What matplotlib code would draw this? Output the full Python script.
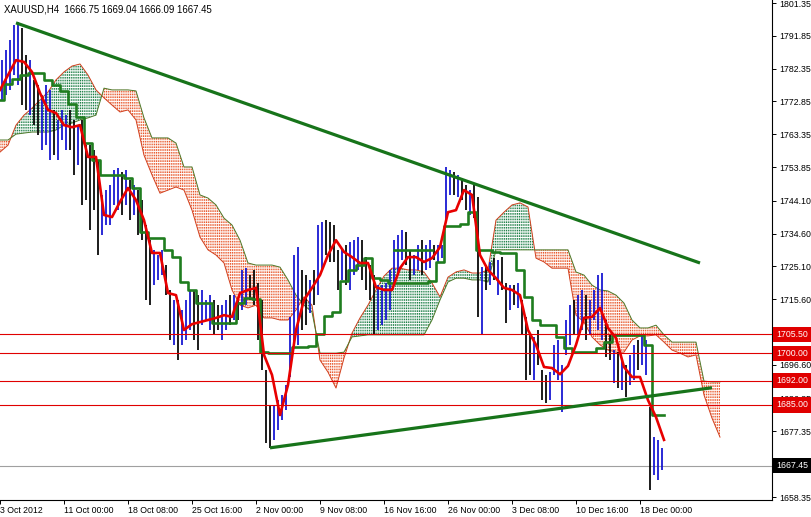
import numpy as np
import matplotlib
matplotlib.use("Agg")
import matplotlib.pyplot as plt
import matplotlib.transforms as mtransforms

plt.rcParams['font.family'] = ['Liberation Sans', 'DejaVu Sans']
plt.rcParams['hatch.linewidth'] = 0.8

# ---------------- data ----------------
title_text = "XAUUSD,H4  1666.75 1669.04 1666.09 1667.45"

# price bars (one entry per two H4 bars)
bar_high = [1784.8, 1787.7, 1790.6, 1795.0, 1795.8, 1794.1, 1786.3, 1784.8, 1779.1, 1777.6,
            1774.7, 1777.6, 1776.2, 1770.4, 1767.5, 1770.4, 1768.9, 1770.4, 1767.5, 1766.0,
            1767.5, 1760.2, 1760.2, 1758.8, 1755.9, 1745.8, 1747.2, 1748.7, 1753.0, 1753.6,
            1752.4, 1753.0, 1750.1, 1748.7, 1747.2, 1744.3, 1737.1, 1732.7, 1729.9, 1728.4,
            1729.9, 1725.5, 1718.3, 1715.4, 1715.4, 1712.5, 1715.4, 1718.3, 1718.3, 1716.8,
            1718.3, 1715.4, 1716.8, 1715.4, 1713.9, 1713.9, 1715.4, 1716.8, 1716.8, 1715.4,
            1724.1, 1724.6, 1722.6, 1724.1, 1720.3, 1715.4, 1695.1, 1685.0, 1685.0, 1686.4,
            1687.9, 1690.8, 1710.5, 1728.4, 1730.7, 1724.1, 1722.6, 1721.2, 1724.1, 1737.1,
            1738.0, 1738.5, 1738.0, 1737.1, 1729.9, 1729.9, 1731.3, 1732.2, 1732.7, 1733.6,
            1732.7, 1727.8, 1725.5, 1722.6, 1719.7, 1719.7, 1720.3, 1724.1, 1732.7, 1734.2,
            1735.6, 1735.1, 1729.9, 1728.4, 1731.3, 1732.7, 1731.3, 1732.7, 1731.3, 1731.3,
            1731.3, 1753.9, 1753.0, 1752.4, 1751.6, 1750.7, 1748.7, 1747.2, 1748.7, 1745.2,
            1724.9, 1725.5, 1726.4, 1727.5, 1727.0, 1727.8, 1720.3, 1719.7, 1719.7, 1720.3,
            1715.4, 1710.5, 1705.3, 1704.7, 1706.7, 1695.1, 1693.7, 1694.5, 1702.4, 1703.8,
            1696.6, 1709.6, 1713.9, 1715.4, 1716.8, 1718.3, 1716.8, 1715.4, 1718.3, 1722.6,
            1723.2, 1709.6, 1705.3, 1700.9, 1700.3, 1698.0, 1696.6, 1699.5, 1702.4, 1703.8,
            1705.3, 1703.8, 1684.4, 1675.7, 1674.9, 1672.5]
bar_low = [1773.3, 1774.7, 1776.2, 1780.5, 1777.6, 1771.8, 1770.4, 1768.9, 1766.0, 1763.1,
           1758.8, 1760.2, 1755.9, 1757.3, 1755.9, 1761.7, 1758.8, 1758.8, 1751.6, 1754.5,
           1742.9, 1744.3, 1735.6, 1741.4, 1728.4, 1734.2, 1737.1, 1737.1, 1742.9, 1741.4,
           1740.0, 1742.9, 1738.5, 1740.0, 1734.2, 1732.7, 1715.4, 1713.9, 1719.7, 1721.2,
           1722.6, 1716.8, 1703.8, 1702.4, 1698.0, 1702.4, 1703.8, 1706.7, 1703.8, 1700.9,
           1708.1, 1709.6, 1706.7, 1705.3, 1706.7, 1703.8, 1706.7, 1708.1, 1709.6, 1709.6,
           1712.5, 1713.9, 1715.4, 1713.9, 1703.8, 1695.1, 1674.0, 1672.5, 1674.9, 1677.8,
           1680.7, 1683.5, 1693.1, 1702.4, 1702.4, 1706.7, 1708.1, 1711.6, 1713.9, 1716.8,
           1724.1, 1728.4, 1726.4, 1726.4, 1718.3, 1721.2, 1719.7, 1718.3, 1722.6, 1724.1,
           1721.2, 1718.3, 1715.4, 1705.3, 1706.7, 1708.1, 1709.6, 1712.5, 1719.7, 1722.6,
           1727.0, 1725.5, 1721.2, 1722.6, 1724.1, 1722.6, 1724.1, 1724.6, 1727.0, 1726.4,
           1727.5, 1738.0, 1745.8, 1745.8, 1745.2, 1744.3, 1741.4, 1740.0, 1739.1, 1710.5,
           1705.3, 1718.3, 1719.7, 1721.2, 1716.8, 1718.3, 1708.7, 1712.5, 1713.9, 1713.1,
           1705.3, 1692.2, 1693.7, 1692.2, 1696.6, 1686.4, 1685.6, 1686.4, 1693.7, 1692.2,
           1683.0, 1699.5, 1702.4, 1705.3, 1705.3, 1706.7, 1703.8, 1705.3, 1709.6, 1706.7,
           1703.8, 1698.9, 1698.0, 1691.4, 1689.9, 1689.3, 1687.3, 1690.8, 1692.2, 1695.1,
           1696.6, 1693.7, 1660.4, 1664.7, 1663.3, 1666.2]
bar_dir = ("uuuuu" "ddudd" "uuudu" "uuddu" "ddddd" "uuuuu" "dudud" "ddduu" "uddud" "uuudd"
           "uuudd" "uudud" "uuddd" "ddduu" "uuuuu" "ddudu" "udddd" "uduuu" "ddddu" "uuuuu"
           "udduu" "duudu" "uuudu" "ddudd" "ududu" "ddudu" "dddud" "dduuu" "uuudu" "uduuu"
           "uddud" "uduud" "uuduu" "u")

# Ichimoku lines (one entry per four H4 bars)
tenkan = [1776.2, 1780.5, 1784.8, 1784.3, 1781.4, 1775.3, 1770.4, 1769.5, 1766.0, 1765.4,
          1766.0, 1756.8, 1756.8, 1740.0, 1739.4, 1743.8, 1747.8, 1744.3, 1738.5, 1729.0,
          1729.0, 1717.4, 1716.8, 1706.7, 1708.4, 1709.0, 1709.6, 1710.2, 1711.0, 1710.5,
          1717.4, 1718.3, 1718.9, 1699.5, 1693.7, 1682.1, 1690.8, 1706.7, 1715.4, 1718.9,
          1722.6, 1728.4, 1732.7, 1729.3, 1727.8, 1726.1, 1726.1, 1719.1, 1718.3, 1718.3,
          1724.6, 1727.8, 1727.8, 1726.4, 1727.5, 1730.7, 1740.8, 1741.4, 1747.2, 1745.8,
          1728.4, 1724.1, 1721.7, 1718.9, 1718.3, 1716.8, 1706.7, 1702.4, 1696.0, 1695.7,
          1693.9, 1696.3, 1702.4, 1710.2, 1710.5, 1713.1, 1707.3, 1704.4, 1696.0, 1693.1,
          1693.1, 1686.4, 1681.5, 1674.9]
kijun = [1773.3, 1777.9, 1779.3, 1780.5, 1781.1, 1781.1, 1779.1, 1777.6, 1775.9, 1772.1,
         1768.3, 1760.8, 1755.9, 1751.6, 1751.6, 1751.6, 1750.7, 1747.8, 1735.1, 1733.3,
         1733.3, 1729.9, 1727.8, 1720.6, 1718.3, 1714.5, 1714.5, 1708.7, 1708.7, 1708.7,
         1714.5, 1716.0, 1715.7, 1700.3, 1700.0, 1700.0, 1700.0, 1701.8, 1701.8, 1702.1,
         1705.5, 1710.7, 1711.9, 1720.9, 1724.1, 1725.5, 1727.5, 1721.7, 1721.2, 1720.3,
         1720.3, 1720.3, 1720.3, 1720.3, 1720.9, 1726.4, 1736.8, 1736.8, 1737.4, 1740.8,
         1729.9, 1729.9, 1729.3, 1729.0, 1729.0, 1724.1, 1716.3, 1709.6, 1708.1, 1708.1,
         1704.7, 1701.5, 1700.3, 1700.3, 1700.3, 1701.5, 1703.2, 1705.3, 1705.3, 1705.3,
         1705.3, 1702.4, 1682.1, 1682.1]
span_a = [1758.2, 1760.2, 1766.0, 1768.9, 1770.9, 1773.3, 1775.6, 1779.1, 1781.4, 1783.1,
          1783.7, 1780.5, 1776.2, 1773.9, 1771.8, 1769.8, 1770.4, 1767.5, 1757.3, 1751.6,
          1746.3, 1747.2, 1748.1, 1747.2, 1741.4, 1733.6, 1729.9, 1728.4, 1726.1, 1718.3,
          1713.9, 1713.1, 1713.9, 1710.2, 1710.2, 1709.6, 1709.6, 1712.5, 1716.3, 1713.9,
          1698.0, 1694.5, 1689.9, 1698.6, 1705.8, 1710.2, 1713.9, 1718.3, 1722.3, 1724.6,
          1724.6, 1724.1, 1724.1, 1723.5, 1720.3, 1716.3, 1722.0, 1723.5, 1724.1, 1723.2,
          1723.2, 1724.1, 1738.5, 1740.8, 1742.9, 1743.5, 1742.3, 1727.5, 1726.4, 1724.6,
          1724.6, 1724.6, 1711.0, 1709.0, 1704.7, 1702.4, 1700.9, 1700.3, 1700.3, 1703.8,
          1705.0, 1705.0, 1705.3, 1703.2, 1700.9, 1700.0, 1698.9, 1699.5, 1687.9, 1681.2,
          1675.7]
span_b = [1761.7, 1761.7, 1763.4, 1763.7, 1764.0, 1764.0, 1764.0, 1764.6, 1766.0, 1766.6,
          1767.5, 1768.1, 1768.9, 1776.7, 1776.2, 1776.2, 1776.2, 1775.9, 1768.1, 1762.3,
          1762.3, 1762.3, 1760.8, 1753.9, 1753.9, 1745.8, 1744.9, 1742.9, 1739.1, 1737.1,
          1732.7, 1726.1, 1725.5, 1725.5, 1725.5, 1724.9, 1721.2, 1716.8, 1713.9, 1711.9,
          1700.0, 1700.0, 1700.0, 1700.3, 1704.7, 1705.0, 1705.3, 1705.3, 1705.3, 1705.3,
          1705.3, 1705.3, 1705.3, 1705.3, 1709.6, 1715.4, 1720.6, 1721.7, 1721.7, 1721.2,
          1721.2, 1720.6, 1729.9, 1729.9, 1729.9, 1729.9, 1729.9, 1729.9, 1729.9, 1729.9,
          1729.9, 1729.9, 1723.5, 1722.6, 1719.7, 1718.3, 1718.0, 1716.8, 1714.5, 1709.6,
          1707.3, 1707.3, 1708.1, 1705.3, 1703.2, 1703.2, 1703.2, 1703.2, 1691.9, 1691.7,
          1691.7]

# drawn objects
levels = [1705.50, 1700.00, 1692.00, 1685.00]
last_price = 1667.45
down_trend_bars = [8, 350]
down_trend_prices = [1795.6, 1726.1]
up_trend_bars = [135, 356]
up_trend_prices = [1672.6, 1690.0]
flat_line_bars = [197, 216]
flat_line_price = 1729.9

ytick_values = [1801.35, 1791.85, 1782.35, 1772.85, 1763.35, 1753.85, 1744.10, 1734.60,
                1725.10, 1715.60, 1696.60, 1686.85, 1677.35, 1658.35]
xtick_bars = [0, 32, 64, 96, 128, 160, 192, 224, 256, 288, 320]
xtick_labels = ["3 Oct 2012", "11 Oct 00:00", "18 Oct 08:00", "25 Oct 16:00", "2 Nov 00:00",
                "9 Nov 08:00", "16 Nov 16:00", "26 Nov 00:00", "3 Dec 08:00", "10 Dec 16:00",
                "18 Dec 00:00"]

# ---------------- figure ----------------
W, H = 812, 517
fig = plt.figure(figsize=(W / 100, H / 100), dpi=100)
ax = fig.add_axes([0, 17 / H, 772 / W, 500 / H])
ax.set_xlim(0, 386)
ax.set_ylim(1657.50, 1802.22)

x_bars = np.arange(len(bar_high)) * 2 + 1
x_lines = np.arange(len(tenkan)) * 4
x_cloud = np.arange(len(span_a)) * 4
sa = np.array(span_a)
sb = np.array(span_b)

# cloud (dotted histogram look)
ax.fill_between(x_cloud, sa, sb, where=sa >= sb, interpolate=True,
                facecolor='none', edgecolor='#1f8048', hatch='|' * 9, linewidth=0, zorder=1)
ax.fill_between(x_cloud, sa, sb, where=sa < sb, interpolate=True,
                facecolor='none', edgecolor='#e8582c', hatch='|' * 9, linewidth=0, zorder=1)
ax.fill_between(x_cloud, sa, sb, facecolor='none', edgecolor='white',
                hatch='-' * 6, linewidth=0, zorder=1.2)
ax.plot(x_cloud, sa, color='#d2401e', lw=0.7, zorder=1.5)
ax.plot(x_cloud, sb, color='#4d7a2a', lw=0.7, zorder=1.5)

# price bars
colors = ['#1010d0' if d == 'u' else 'black' for d in bar_dir]
ax.vlines(x_bars, bar_low, bar_high, colors=colors, linewidth=1.25, zorder=3)

# Ichimoku lines
ax.plot(x_lines, kijun, color='#1f7d1f', lw=1.9, zorder=4, drawstyle='steps-mid')
ax.plot(x_lines, tenkan, color='#e80000', lw=1.9, zorder=4.2)
ax.plot(flat_line_bars, [flat_line_price] * 2, color='#1f7d1f', lw=1.9, zorder=4)

# horizontal levels
for lv in levels:
    ax.axhline(lv, color='#e00000', lw=0.8, zorder=5)
ax.axhline(last_price, color='#a0a0a0', lw=0.8, zorder=2)

# trend lines
ax.plot(down_trend_bars, down_trend_prices, color='#17741a', lw=2.3, zorder=6,
        solid_capstyle='butt')
ax.plot(up_trend_bars, up_trend_prices, color='#17741a', lw=2.3, zorder=6,
        solid_capstyle='butt')

# axes styling
for s in ['left', 'top']:
    ax.spines[s].set_visible(False)
for s in ['right', 'bottom']:
    ax.spines[s].set_linewidth(0.8)
    ax.spines[s].set_color('black')

ax.yaxis.tick_right()
ax.set_yticks(ytick_values)
ax.set_yticklabels([f"{v:.2f}" for v in ytick_values])
ax.tick_params(axis='y', direction='out', length=3, width=0.7, labelsize=6.3, pad=2)
ax.set_xticks(xtick_bars)
ax.set_xticklabels(xtick_labels)
ax.tick_params(axis='x', direction='out', length=3, width=0.7, labelsize=6.3, pad=1.5)
for lbl in ax.get_xticklabels():
    lbl.set_horizontalalignment('left')

# price labels on the right axis
trans = mtransforms.blended_transform_factory(ax.transAxes, ax.transData)
off = mtransforms.offset_copy(trans, fig=fig, x=4, y=0, units='dots')
for lv in levels:
    ax.text(1.0, lv, f"{lv:.2f}", transform=off, ha='left', va='center', fontsize=6.3,
            color='white', clip_on=False, zorder=20,
            bbox=dict(boxstyle='square,pad=0.35', fc='#e00000', ec='none'))
ax.text(1.0, last_price, f"{last_price:.2f}", transform=off, ha='left', va='center',
        fontsize=6.3, color='white', clip_on=False, zorder=20,
        bbox=dict(boxstyle='square,pad=0.35', fc='black', ec='none'))

# chart title
fig.text(4 / W, 1 - 9 / H, title_text, fontsize=6.9, ha='left', va='center', color='black')

fig.savefig('out.png', dpi=100)
